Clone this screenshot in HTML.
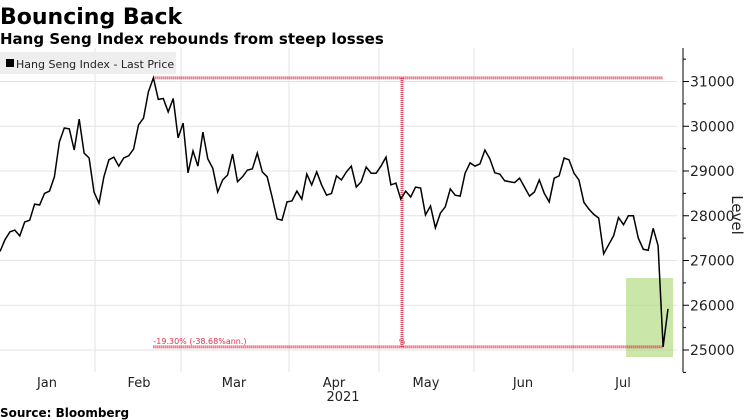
<!DOCTYPE html>
<html><head><meta charset="utf-8"><style>
body{margin:0;background:#fff;width:748px;height:420px;overflow:hidden;font-family:"DejaVu Sans","Liberation Sans",sans-serif}
svg{display:block}
</style></head><body>
<svg id="c" width="748" height="420">
<text x="0" y="24" font-size="22" font-weight="bold" fill="#000">Bouncing Back</text>
<text x="0" y="44" font-size="15" font-weight="bold" fill="#000">Hang Seng Index rebounds from steep losses</text>
<g id="grid"></g>
<rect x="626" y="278" width="47" height="79" fill="#b5dc85" opacity="0.7"/>
<g id="ann"></g>
<path id="line" fill="none" stroke="#000" stroke-width="1.5"/>
<rect x="0" y="52" width="176" height="22" fill="#eee"/>
<rect x="6" y="59" width="8" height="8" fill="#000"/>
<text x="16" y="68" font-size="11" fill="#222">Hang Seng Index - Last Price</text>
<line x1="683" y1="48" x2="683" y2="372" stroke="#000" stroke-width="1"/>
<g id="yaxis"></g>
<g id="xaxis"></g>
<text transform="translate(732,215) rotate(90)" font-size="15" text-anchor="middle" fill="#222">Level</text>
<text x="343" y="401" font-size="13" text-anchor="middle" fill="#222">2021</text>
<text x="0" y="417" font-size="12" font-weight="bold" fill="#000">Source: Bloomberg</text>
</svg>
<script>
const values=[27200,27460,27640,27680,27550,27860,27900,28260,28240,28500,28550,28870,29650,29960,29940,29470,30160,29400,29290,28530,28280,28870,29250,29310,29110,29290,29340,29490,30030,30180,30770,31080,30600,30620,30320,30620,29740,30070,28960,29450,29110,29870,29270,29060,28530,28800,28910,29380,28760,28870,29020,29050,29400,28980,28870,28420,27930,27900,28310,28330,28550,28370,28930,28690,28980,28690,28460,28500,28890,28800,28980,29110,28640,28760,29090,28950,28950,29110,29310,28690,28730,28370,28550,28420,28640,28620,28020,28220,27730,28060,28200,28600,28460,28440,28950,29180,29110,29160,29470,29270,28960,28930,28780,28760,28740,28840,28640,28440,28530,28800,28500,28310,28840,28890,29290,29250,28950,28800,28300,28150,28030,27950,27150,27350,27550,27960,27800,28000,28000,27500,27250,27230,27720,27330,25070,25920];
const yTicks=[25000,26000,27000,28000,29000,30000,31000];
const months=["Jan","Feb","Mar","Apr","May","Jun","Jul"];
const monthCenters=[47,139,234,334,426,523,623];
const monthBounds=[95,181,289,379,474,573];
const NS="http://www.w3.org/2000/svg";
const xS=i=>i*(668/(values.length-1));
const yS=v=>81.5+(31000-v)*0.04475;
function mk(tag,attrs,parent){const e=document.createElementNS(NS,tag);for(const k in attrs)e.setAttribute(k,attrs[k]);parent.appendChild(e);return e;}
const grid=document.getElementById('grid'),ya=document.getElementById('yaxis'),xa=document.getElementById('xaxis');
yTicks.forEach(v=>{
 const g=mk('line',{x1:0,x2:677,y1:yS(v),y2:yS(v),stroke:'#e3e3e3'},grid);
 
 
 const t=mk('line',{x1:683,x2:689,y1:yS(v),y2:yS(v),stroke:'#000'},ya);
 
 
 const m=mk('line',{x1:683,x2:686,y1:yS(v+500),y2:yS(v+500),stroke:'#000'},ya);
 
 
 const l=mk('text',{x:690,y:yS(v)+5,'font-size':14,fill:'#222'},ya);
 l.textContent=v;
 
 
});
const mm=mk('line',{x1:683,x2:686,y1:yS(24500),y2:yS(24500),stroke:'#000'},ya);


monthBounds.forEach(x=>{
 const g=mk('line',{x1:x,x2:x,y1:48,y2:372,stroke:'#e3e3e3'},grid);
 
 
});
months.forEach((m,i)=>{
 const t=mk('text',{x:monthCenters[i],y:387,'font-size':13,'text-anchor':'middle',fill:'#222'},xa);
 t.textContent=m;
 
 
});
let d='';values.forEach((v,i)=>{d+=(i?'L':'M')+xS(i).toFixed(1)+','+yS(v).toFixed(1);});
document.getElementById('line').setAttribute('d',d);
const ann=document.getElementById('ann');
const hi=Math.max(...values),lo=values[values.length-2];
const hiX=xS(values.indexOf(hi)),loX=xS(values.length-2);
const a1=mk('line',{x1:hiX,x2:loX,y1:yS(hi),y2:yS(hi),stroke:'#e0304a','stroke-width':3,'stroke-dasharray':'1 1'},ann);


const a2=mk('line',{x1:hiX,x2:loX,y1:yS(lo),y2:yS(lo),stroke:'#e0304a','stroke-width':3,'stroke-dasharray':'1 1'},ann);


const a3=mk('line',{x1:402,x2:402,y1:yS(hi),y2:yS(lo),stroke:'#e0304a','stroke-width':3,'stroke-dasharray':'1 1'},ann);


const at=mk('text',{x:hiX,y:yS(lo)-3,'font-size':8,fill:'#e0304a'},ann);
at.textContent='-19.30% (-38.68%ann.)';


const ap=mk('text',{x:402,y:yS(lo)-3,'font-size':7,fill:'#e0304a','text-anchor':'middle'},ann);
ap.textContent='%';


</script>
</body></html>
